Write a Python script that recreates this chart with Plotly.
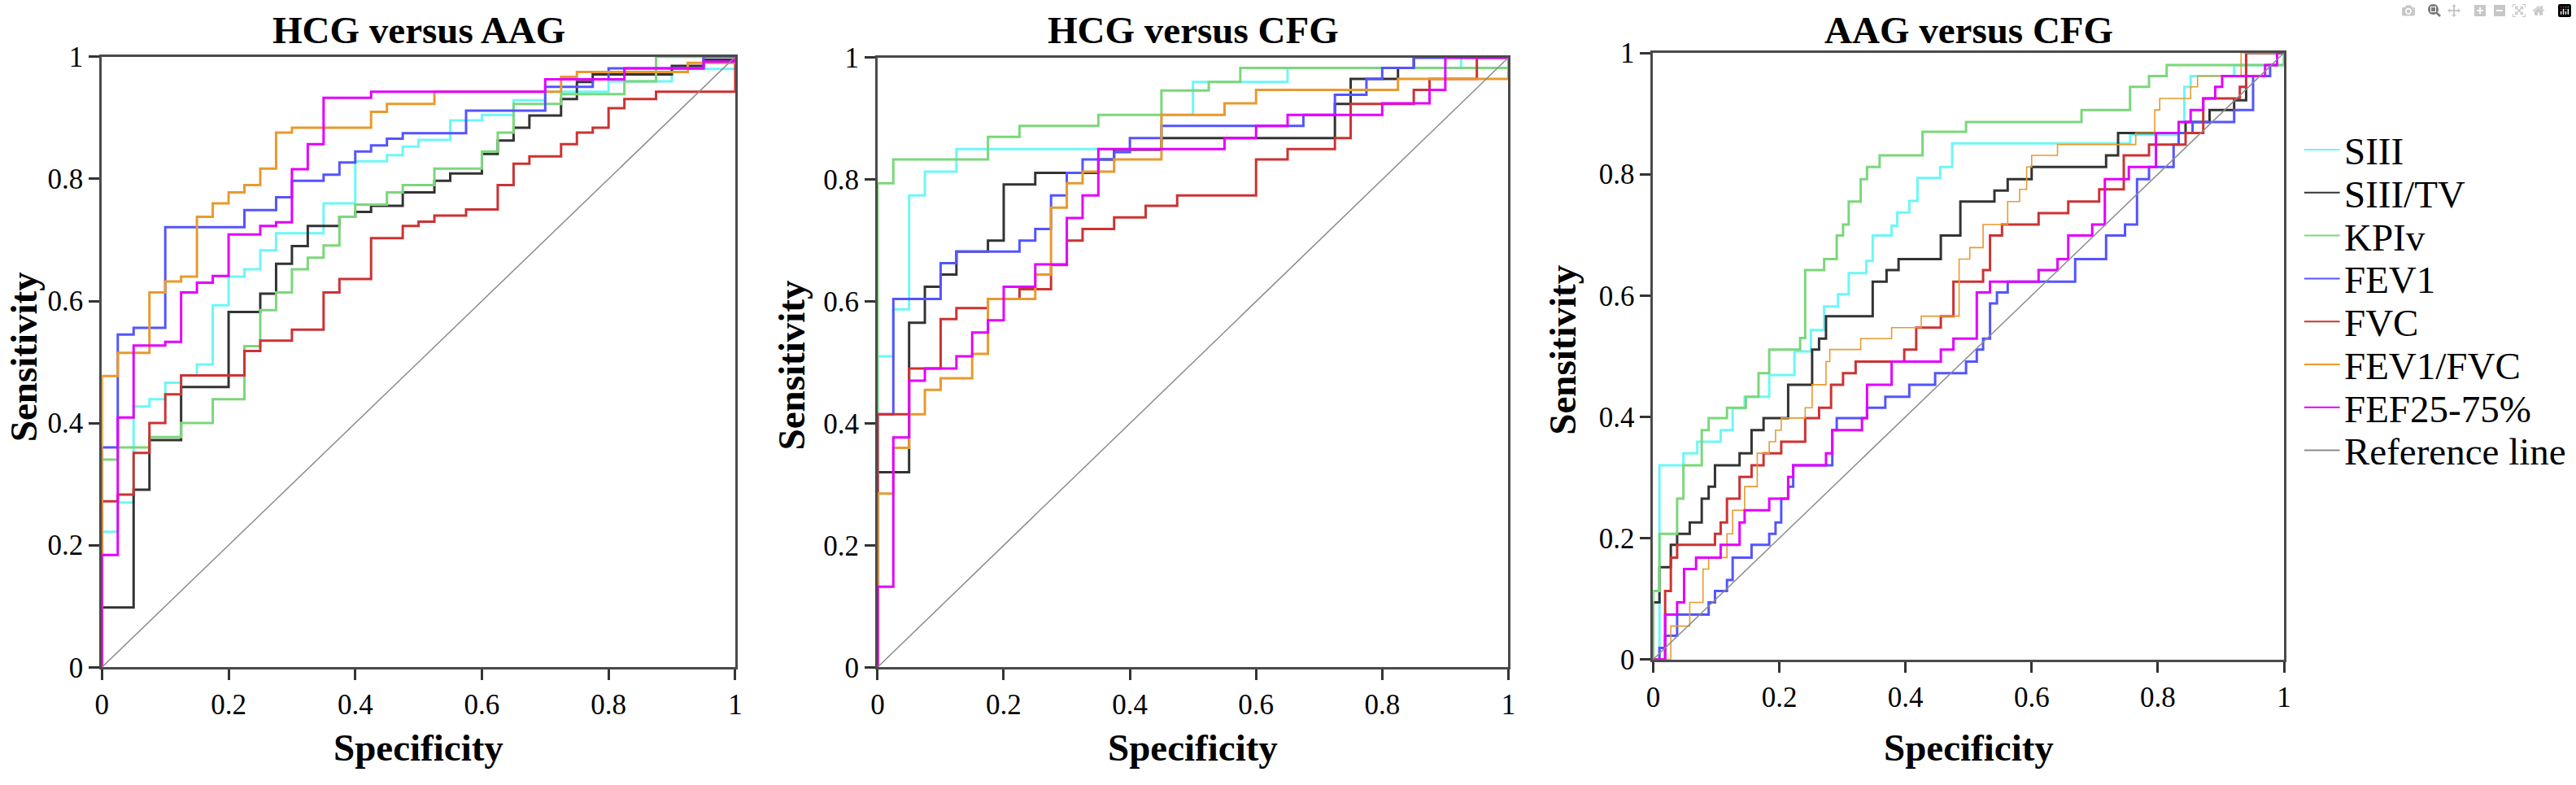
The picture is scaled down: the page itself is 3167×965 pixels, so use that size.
import plotly.graph_objects as go
from plotly.subplots import make_subplots

W, H = 3167, 965

series = ["SIII", "SIII/TV", "KPIv", "FEV1", "FVC", "FEV1/FVC", "FEF25-75%"]
colors = ["#6CF7F7", "#333333", "#7BD77B", "#5454FF", "#CC3333", "#E89A2E", "#E300FF"]
ref_color = "#8C8C8C"
panel_titles = ["HCG versus AAG", "HCG versus CFG", "AAG versus CFG"]
tick_vals = [0, 0.2, 0.4, 0.6, 0.8, 1]
tick_text = ["0", "0.2", "0.4", "0.6", "0.8", "1"]
ref_x = [0, 1]
ref_y = [0, 1]

# ---- HCG versus AAG : (specificity, sensitivity) step vertices
aag_siii = [(0, 0), (0, 0.222), (0.025, 0.27), (0.05, 0.427), (0.075, 0.439), (0.1, 0.466),
            (0.125, 0.478), (0.15, 0.496), (0.175, 0.593), (0.2, 0.64), (0.225, 0.652),
            (0.25, 0.683), (0.275, 0.711), (0.35, 0.76), (0.4, 0.829), (0.45, 0.839),
            (0.475, 0.853), (0.5, 0.864), (0.55, 0.896), (0.6, 0.905), (0.65, 0.929),
            (0.7, 0.943), (0.8, 0.96), (0.9, 0.98), (1, 1)]
aag_siii_tv = [(0, 0), (0, 0.098), (0.05, 0.291), (0.075, 0.372), (0.125, 0.459), (0.2, 0.582),
               (0.25, 0.612), (0.275, 0.661), (0.3, 0.69), (0.325, 0.723), (0.375, 0.738),
               (0.4, 0.746), (0.425, 0.756), (0.475, 0.778), (0.525, 0.797), (0.55, 0.809),
               (0.6, 0.841), (0.625, 0.863), (0.65, 0.884), (0.675, 0.904), (0.725, 0.931),
               (0.75, 0.959), (0.775, 0.971), (0.9, 0.985), (0.95, 0.995), (1, 1)]
aag_kpiv = [(0, 0), (0, 0.34), (0.025, 0.36), (0.075, 0.377), (0.125, 0.4), (0.175, 0.439),
            (0.225, 0.526), (0.25, 0.585), (0.275, 0.614), (0.3, 0.652), (0.325, 0.671),
            (0.35, 0.691), (0.375, 0.738), (0.4, 0.758), (0.45, 0.778), (0.475, 0.79),
            (0.525, 0.817), (0.6, 0.845), (0.625, 0.876), (0.65, 0.923), (0.725, 0.939),
            (0.825, 0.96), (0.875, 1.0), (1, 1)]
aag_fev1 = [(0, 0), (0, 0.36), (0.025, 0.545), (0.05, 0.556), (0.1, 0.721), (0.225, 0.749),
            (0.275, 0.77), (0.3, 0.797), (0.35, 0.807), (0.375, 0.827), (0.4, 0.845),
            (0.425, 0.855), (0.45, 0.866), (0.475, 0.875), (0.575, 0.912), (0.7, 0.951),
            (0.775, 0.963), (0.8, 0.981), (0.95, 1.0), (1, 1)]
aag_fvc = [(0, 0), (0, 0.272), (0.025, 0.283), (0.05, 0.351), (0.075, 0.4), (0.1, 0.447),
           (0.125, 0.478), (0.225, 0.518), (0.25, 0.535), (0.3, 0.553), (0.35, 0.614),
           (0.375, 0.636), (0.425, 0.703), (0.475, 0.723), (0.5, 0.73), (0.525, 0.74),
           (0.575, 0.75), (0.625, 0.79), (0.65, 0.825), (0.675, 0.837), (0.725, 0.857),
           (0.75, 0.876), (0.775, 0.884), (0.8, 0.916), (0.825, 0.931), (0.875, 0.943),
           (1, 0.953), (1, 1)]
aag_fev1_fvc = [(0, 0), (0, 0.477), (0.025, 0.515), (0.075, 0.614), (0.1, 0.632), (0.125, 0.64),
                (0.15, 0.738), (0.175, 0.76), (0.2, 0.778), (0.225, 0.79), (0.25, 0.817),
                (0.275, 0.876), (0.3, 0.884), (0.425, 0.91), (0.45, 0.923), (0.525, 0.943),
                (0.725, 0.967), (0.75, 0.975), (0.925, 0.99), (1, 1)]
aag_fef = [(0, 0), (0, 0.184), (0.025, 0.409), (0.05, 0.527), (0.1, 0.533), (0.125, 0.614),
           (0.15, 0.63), (0.175, 0.641), (0.2, 0.709), (0.25, 0.723), (0.275, 0.729),
           (0.3, 0.816), (0.325, 0.857), (0.35, 0.933), (0.425, 0.943), (0.7, 0.963),
           (0.825, 0.981), (0.95, 0.992), (1, 1)]

# ---- HCG versus CFG
cfg_siii = [(0, 0), (0, 0.51), (0.025, 0.587), (0.05, 0.774), (0.075, 0.813), (0.125, 0.85),
            (0.45, 0.906), (0.5, 0.96), (0.65, 0.983), (0.925, 1.0), (1, 1)]
cfg_siii_tv = [(0, 0), (0, 0.32), (0.05, 0.565), (0.075, 0.624), (0.1, 0.644), (0.125, 0.682),
               (0.175, 0.7), (0.2, 0.792), (0.25, 0.811), (0.35, 0.833), (0.375, 0.849),
               (0.45, 0.868), (0.725, 0.924), (0.75, 0.965), (0.825, 0.983), (0.85, 1.0), (1, 1)]
cfg_kpiv = [(0, 0), (0, 0.794), (0.025, 0.833), (0.175, 0.87), (0.225, 0.888), (0.35, 0.906),
            (0.45, 0.946), (0.525, 0.96), (0.575, 0.983), (1, 0.983), (1, 1)]
cfg_fev1 = [(0, 0), (0, 0.415), (0.025, 0.604), (0.1, 0.663), (0.125, 0.682), (0.225, 0.7),
            (0.25, 0.719), (0.275, 0.774), (0.3, 0.811), (0.325, 0.833), (0.375, 0.845),
            (0.4, 0.868), (0.45, 0.888), (0.675, 0.906), (0.725, 0.939), (0.775, 0.965),
            (0.8, 0.983), (0.85, 1.0), (1, 1)]
cfg_fvc = [(0, 0), (0, 0.415), (0.05, 0.49), (0.1, 0.571), (0.125, 0.589), (0.175, 0.604),
           (0.225, 0.62), (0.275, 0.66), (0.3, 0.7), (0.325, 0.719), (0.375, 0.738),
           (0.425, 0.757), (0.475, 0.774), (0.6, 0.833), (0.65, 0.85), (0.725, 0.868),
           (0.75, 0.924), (0.85, 0.947), (0.875, 0.965), (0.95, 1.0), (1, 1)]
cfg_fev1_fvc = [(0, 0), (0, 0.285), (0.025, 0.36), (0.05, 0.415), (0.075, 0.455), (0.1, 0.474),
                (0.15, 0.514), (0.175, 0.604), (0.25, 0.644), (0.275, 0.754), (0.3, 0.794),
                (0.325, 0.813), (0.375, 0.833), (0.45, 0.906), (0.55, 0.925), (0.6, 0.947),
                (0.825, 0.965), (1, 0.965), (1, 1)]
cfg_fef = [(0, 0), (0, 0.132), (0.025, 0.377), (0.05, 0.47), (0.075, 0.49), (0.125, 0.51),
           (0.15, 0.549), (0.175, 0.569), (0.2, 0.624), (0.25, 0.661), (0.3, 0.737),
           (0.325, 0.774), (0.35, 0.85), (0.55, 0.868), (0.6, 0.888), (0.65, 0.906),
           (0.8, 0.925), (0.875, 0.947), (0.9, 1.0), (1, 1)]

# ---- AAG versus CFG
ac_siii = [(0, 0), (0.01, 0.32), (0.048, 0.34), (0.07, 0.359), (0.107, 0.378), (0.126, 0.414),
           (0.145, 0.433), (0.184, 0.469), (0.224, 0.508), (0.25, 0.543), (0.271, 0.582),
           (0.293, 0.602), (0.31, 0.637), (0.338, 0.657), (0.348, 0.699), (0.378, 0.715),
           (0.387, 0.737), (0.406, 0.756), (0.419, 0.794), (0.455, 0.812), (0.474, 0.851),
           (0.756, 0.865), (0.833, 0.886), (0.842, 0.944), (0.852, 0.962), (0.921, 0.98), (1, 1)]
ac_siii_tv = [(0, 0), (0, 0.094), (0.01, 0.152), (0.028, 0.189), (0.038, 0.207), (0.058, 0.226),
              (0.077, 0.265), (0.088, 0.285), (0.098, 0.32), (0.137, 0.34), (0.156, 0.378),
              (0.175, 0.398), (0.214, 0.453), (0.252, 0.511), (0.263, 0.529), (0.274, 0.566),
              (0.348, 0.623), (0.37, 0.642), (0.389, 0.66), (0.456, 0.699), (0.487, 0.755),
              (0.541, 0.773), (0.562, 0.792), (0.6, 0.812), (0.718, 0.831), (0.737, 0.868),
              (0.844, 0.886), (0.882, 0.906), (0.921, 0.922), (0.94, 1.0), (1, 1)]
ac_kpiv = [(0, 0), (0, 0.113), (0.01, 0.207), (0.038, 0.265), (0.048, 0.32), (0.077, 0.378),
           (0.088, 0.398), (0.117, 0.415), (0.147, 0.433), (0.167, 0.472), (0.184, 0.511),
           (0.233, 0.53), (0.241, 0.642), (0.271, 0.66), (0.291, 0.699), (0.301, 0.717),
           (0.31, 0.755), (0.329, 0.792), (0.339, 0.812), (0.359, 0.831), (0.427, 0.87),
           (0.496, 0.886), (0.679, 0.906), (0.756, 0.944), (0.786, 0.962), (0.814, 0.98),
           (1, 0.98), (1, 1)]
ac_fev1 = [(0, 0), (0.01, 0.019), (0.019, 0.039), (0.038, 0.074), (0.088, 0.094), (0.098, 0.113),
           (0.117, 0.131), (0.126, 0.168), (0.156, 0.189), (0.184, 0.207), (0.194, 0.226),
           (0.203, 0.265), (0.214, 0.285), (0.222, 0.32), (0.284, 0.378), (0.291, 0.398),
           (0.339, 0.415), (0.368, 0.433), (0.406, 0.453), (0.447, 0.472), (0.496, 0.491),
           (0.513, 0.511), (0.523, 0.529), (0.534, 0.587), (0.545, 0.605), (0.562, 0.623),
           (0.669, 0.66), (0.718, 0.699), (0.748, 0.717), (0.767, 0.792), (0.786, 0.812),
           (0.825, 0.849), (0.833, 0.868), (0.855, 0.886), (0.921, 0.906), (0.951, 0.962),
           (0.978, 0.98), (0.989, 1.0), (1, 1)]
ac_fvc = [(0, 0), (0.019, 0.113), (0.028, 0.168), (0.038, 0.189), (0.098, 0.207), (0.107, 0.226),
          (0.117, 0.265), (0.137, 0.301), (0.156, 0.32), (0.175, 0.34), (0.203, 0.359),
          (0.241, 0.398), (0.263, 0.415), (0.282, 0.453), (0.301, 0.472), (0.321, 0.491),
          (0.398, 0.511), (0.417, 0.547), (0.456, 0.566), (0.476, 0.623), (0.523, 0.642),
          (0.534, 0.699), (0.553, 0.717), (0.611, 0.736), (0.658, 0.755), (0.707, 0.775),
          (0.746, 0.831), (0.786, 0.849), (0.844, 0.868), (0.872, 0.925), (0.93, 0.944),
          (0.94, 1.0), (1, 1)]
ac_fev1_fvc = [(0, 0), (0.028, 0.055), (0.058, 0.094), (0.079, 0.149), (0.088, 0.168),
               (0.117, 0.207), (0.126, 0.246), (0.145, 0.285), (0.165, 0.34), (0.184, 0.359),
               (0.194, 0.378), (0.203, 0.398), (0.241, 0.415), (0.252, 0.453), (0.274, 0.491),
               (0.28, 0.511), (0.329, 0.529), (0.378, 0.547), (0.425, 0.566), (0.485, 0.66),
               (0.502, 0.679), (0.523, 0.717), (0.562, 0.755), (0.581, 0.775), (0.592, 0.812),
               (0.6, 0.831), (0.641, 0.849), (0.765, 0.868), (0.795, 0.906), (0.803, 0.925),
               (0.852, 0.944), (0.863, 0.962), (0.932, 1.0), (1, 1)]
ac_fef = [(0, 0), (0.019, 0.074), (0.038, 0.094), (0.049, 0.149), (0.068, 0.168), (0.107, 0.189),
          (0.137, 0.226), (0.145, 0.246), (0.184, 0.265), (0.214, 0.301), (0.222, 0.32),
          (0.274, 0.34), (0.284, 0.378), (0.331, 0.398), (0.339, 0.453), (0.378, 0.491),
          (0.456, 0.511), (0.476, 0.529), (0.513, 0.605), (0.534, 0.623), (0.611, 0.642),
          (0.641, 0.66), (0.658, 0.699), (0.696, 0.717), (0.716, 0.792), (0.754, 0.812),
          (0.797, 0.868), (0.833, 0.886), (0.852, 0.906), (0.872, 0.925), (0.891, 0.944),
          (0.902, 0.962), (0.97, 0.98), (0.989, 1.0), (1, 1)]

panels = [
    [aag_siii, aag_siii_tv, aag_kpiv, aag_fev1, aag_fvc, aag_fev1_fvc, aag_fef],
    [cfg_siii, cfg_siii_tv, cfg_kpiv, cfg_fev1, cfg_fvc, cfg_fev1_fvc, cfg_fef],
    [ac_siii, ac_siii_tv, ac_kpiv, ac_fev1, ac_fvc, ac_fev1_fvc, ac_fef],
]

# pixel boxes of the three plot areas
box_x = [(117, 900), (1076, 1856), (2035, 2815)]
box_y = [(53, 835), (54, 835), (48, 825)]
ylab_pos = [(20, 437), (969, 448), (1923, 429)]

SERIF = "Liberation Serif"

fig = make_subplots(rows=1, cols=3)

for p, curves in enumerate(panels):
    for name, color, pts in zip(series, colors, curves):
        width = 3
        if p == 2 and name == "FEV1/FVC":
            width = 1.6
        fig.add_trace(go.Scatter(
            x=[a for a, b in pts], y=[b for a, b in pts],
            mode="lines", name=name,
            line=dict(color=color, width=width, shape="hv"),
            showlegend=False
        ), row=1, col=p + 1)
    fig.add_trace(go.Scatter(
        x=ref_x, y=ref_y, mode="lines", name="Reference line",
        line=dict(color=ref_color, width=1.5), showlegend=False
    ), row=1, col=p + 1)

axis_style = dict(
    range=[0, 1], tickvals=tick_vals, ticktext=tick_text,
    ticks="outside", ticklen=13, tickwidth=3, tickcolor="#333333",
    showline=True, linecolor="#4a4a4a", linewidth=3, mirror=True,
    showgrid=False, zeroline=False,
    tickfont=dict(family=SERIF, size=35, color="black"),
)

annotations = []
for p in range(3):
    x0, x1 = box_x[p]
    y0, y1 = box_y[p]
    fig.update_xaxes(domain=[x0 / W, x1 / W], **axis_style, row=1, col=p + 1)
    fig.update_yaxes(domain=[1 - y1 / H, 1 - y0 / H], **axis_style, row=1, col=p + 1)
    cx = (x0 + x1) / 2
    annotations.append(dict(
        text="<b>%s</b>" % panel_titles[p], x=cx / W, y=1 - 19 / H,
        xref="paper", yref="paper", xanchor="center", yanchor="middle",
        showarrow=False, font=dict(family=SERIF, size=47, color="black")))
    annotations.append(dict(
        text="<b>Specificity</b>", x=cx / W, y=1 - 938 / H,
        xref="paper", yref="paper", xanchor="center", yanchor="middle",
        showarrow=False, font=dict(family=SERIF, size=47, color="black")))
    lx, ly = ylab_pos[p]
    annotations.append(dict(
        text="<b>Sensitivity</b>", x=lx / W, y=1 - ly / H, textangle=-90,
        xref="paper", yref="paper", xanchor="center", yanchor="middle",
        showarrow=False, font=dict(family=SERIF, size=47, color="black")))

# legend drawn beside the third panel
legend_names = series + ["Reference line"]
legend_colors = colors + [ref_color]
shapes = []
for i, (name, color) in enumerate(zip(legend_names, legend_colors)):
    yc = 172 + 55 * i
    shapes.append(dict(type="line", xref="paper", yref="paper",
                       x0=2840 / W, x1=2884 / W, y0=1 - yc / H, y1=1 - yc / H,
                       line=dict(color=color, width=2)))
    annotations.append(dict(
        text=name, x=2887 / W, y=1 - (yc + 2) / H, xref="paper", yref="paper",
        xanchor="left", yanchor="middle", showarrow=False,
        font=dict(family=SERIF, size=47, color="black")))

fig.update_layout(
    width=W, height=H,
    margin=dict(l=0, r=0, t=0, b=0),
    paper_bgcolor="white", plot_bgcolor="white",
    showlegend=False,
    annotations=annotations, shapes=shapes,
)

fig.write_html("out.html", post_script="document.body.style.margin='0';")
